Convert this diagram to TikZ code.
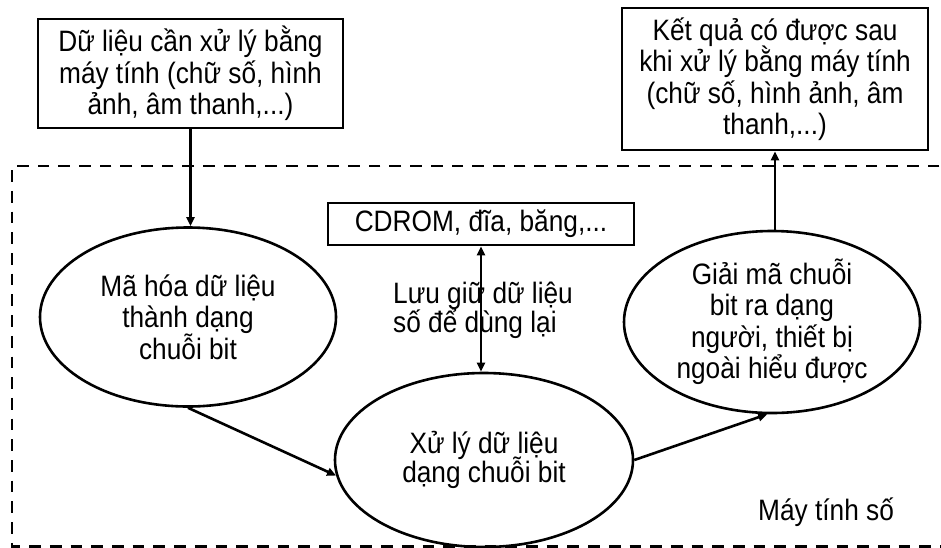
\documentclass[tikz,border=0pt]{standalone}
\usepackage{fontspec}
\setmainfont{Liberation Sans}[FakeStretch=0.89]
\usetikzlibrary{arrows.meta,shapes.geometric}
% keep a fixed line pitch even with stacked Vietnamese diacritics
\setlength{\lineskiplimit}{-100pt}

\tikzset{
  txt/.style={font=\fontsize{29.5}{31.5}\selectfont, align=center},
  box/.style={draw, line width=2.6pt, rectangle, inner sep=0pt, txt},
  oval/.style={draw, line width=2.6pt, ellipse, inner sep=0pt, txt},
  tip/.tip={Triangle[length=9pt,width=8pt]},
  link/.style={line width=2.6pt, -tip},
  both/.style={line width=2.6pt, tip-tip},
  frame/.style={line width=2.6pt, dash pattern=on 11.7pt off 9pt},
}

\begin{document}
\begin{tikzpicture}[x=1pt,y=-1pt]
\useasboundingbox (0,0) rectangle (941,547);

% computer boundary (open on the right)
\draw[frame] (960,166) -- (12,166) -- (12,546.3) -- (960,546.3);

% input and output data
\node[box, minimum width=305pt, minimum height=109pt] (src) at (190.5,73.5)
  {Dữ liệu cần xử lý bằng\\máy tính (chữ số, hình\\ảnh, âm thanh,...)};
\node[box, minimum width=306pt, minimum height=142pt] (out) at (775,79)
  {Kết quả có được sau\\khi xử lý bằng máy tính\\(chữ số, hình ảnh, âm\\thanh,...)};

% storage media
\node[box, minimum width=306pt, minimum height=42pt] (store) at (481,224)
  {CDROM, đĩa, băng,...};

% processing stages
\node[oval, minimum width=296pt, minimum height=179pt] (enc) at (188,317)
  {Mã hóa dữ liệu\\thành dạng\\chuỗi bit};
\node[oval, minimum width=298pt, minimum height=174pt,
      font=\fontsize{29.5}{29}\selectfont] (proc) at (484,460)
  {Xử lý dữ liệu\\dạng chuỗi bit};
\node[oval, minimum width=296pt, minimum height=182pt] (dec) at (772,322)
  {Giải mã chuỗi\\bit ra dạng\\người, thiết bị\\ngoài hiểu được};

% labels
\node[font=\fontsize{29.5}{29}\selectfont, align=left,
      anchor=west, inner sep=0pt] (keep) at (393,310)
  {Lưu giữ dữ liệu\\số để dùng lại};
\node[txt, anchor=base west, inner sep=0pt] (pc) at (758,520) {Máy tính số};

% data flow
\draw[link] (src.south) -- (src.south |- enc.north);
\draw[link] (enc.south) -- (proc.186);
\draw[link] (proc.east) -- (dec.267);
\draw[link] (out.south |- dec.north) -- (out.south);
\draw[both] (store.south) -- (store.south |- proc.north);
\end{tikzpicture}
\end{document}
